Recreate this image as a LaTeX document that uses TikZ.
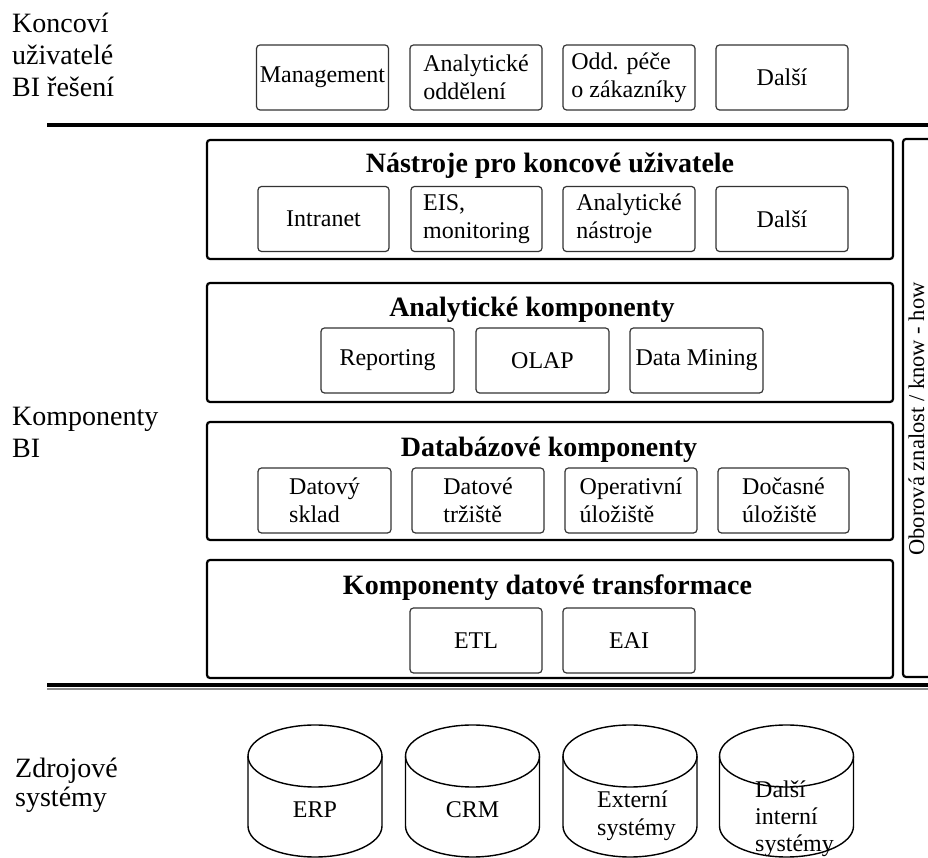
\documentclass[tikz,border=0pt]{standalone}
\usepackage{fontspec}
\setmainfont{Liberation Serif}
\begin{document}
\begin{tikzpicture}[x=1pt,y=1pt,
  section/.style={draw=black, line width=2.2pt, rounded corners=3pt, minimum width=686pt, inner sep=0pt},
  item/.style={draw=black!80, line width=1.2pt, rounded corners=3.5pt, minimum width=132pt,
    minimum height=65pt, inner sep=1pt, align=left, font=\fontsize{24}{28}\selectfont},
  heading/.style={font=\bfseries\fontsize{28}{32}\selectfont, anchor=base, inner sep=0pt},
  sidelabel/.style={font=\fontsize{28}{32}\selectfont, anchor=base west, align=left, inner sep=0pt},
  rule/.style={line width=4.7pt},
  drum/.style={draw=black, line width=1.4pt},
  drumtext/.style={font=\fontsize{24}{28}\selectfont, align=left, inner sep=0pt},
  drumpic/.pic={
    \draw[drum] (0,0) ellipse [x radius=67, y radius=31];
    \draw[drum] (-67,0) -- (-67,-70) arc[start angle=180, end angle=360, x radius=67, y radius=31] -- (67,0);
  }
]
\useasboundingbox (0,0) rectangle (928,858);

% ---- layer labels on the left (anchored at the baseline of their last line)
\node[sidelabel] (lab1) at (12,761) {Koncoví\\uživatelé\\BI řešení};
\node[sidelabel] (lab2) at (12,400) {Komponenty\\BI};
\node[sidelabel, font=\fontsize{28}{29}\selectfont] (lab3) at (15,51) {Zdrojové\\systémy};

% ---- end users
\node[item] (u1) at (322.5,780.5) {Management};
\node[item] (u2) at (476,780.5) {Analytické\\oddělení};
\node[item] (u3) at (629,780.5) {Odd. péče\\o zákazníky};
\node[item] (u4) at (782,780.5) {Další};

% ---- separators
\coordinate (r1a) at (47,733);
\coordinate (r1b) at (940,733);
\draw[rule] (r1a) -- (r1b);
\coordinate (r2a) at (47,173);
\coordinate (r2b) at (940,173);
\coordinate (r3a) at (47,169);
\coordinate (r3b) at (940,169);
\draw[rule] (r2a) -- (r2b);
\draw[black!45, line width=1.5pt] (r3a) -- (r3b);

% ---- BI component layers
\node[section, minimum height=119pt] (s1) at (550,658.5) {};
\node[section, minimum height=119pt] (s2) at (550,515.5) {};
\node[section, minimum height=118pt] (s3) at (550,377) {};
\node[section, minimum height=118pt] (s4) at (550,239) {};

% domain knowledge column
\node[draw=black, line width=2.2pt, rounded corners=3pt, minimum width=50pt, minimum height=538pt] (kh) at (928,450) {};
\node[rotate=90, anchor=base, inner sep=0pt, font=\fontsize{22.5}{27}\selectfont] (kht) at (924,439) {Oborová znalost / know - how};

% tools for end users
\node[heading] (t1) at (550,685) {Nástroje pro koncové uživatele};
\node[item, minimum width=131pt] (a1) at (323.5,639) {Intranet};
\node[item, minimum width=131pt] (a2) at (476.5,639) {EIS,\\monitoring};
\node[item] (a3) at (629,639) {Analytické\\nástroje};
\node[item] (a4) at (782,639) {Další};

% analytic components
\node[heading] (t2) at (532,541) {Analytické komponenty};
\node[item, minimum width=133pt] (b1) at (387.5,497.5) {Reporting};
\node[item, minimum width=133pt] (b2) at (542.5,497.5) {OLAP};
\node[item, minimum width=133pt] (b3) at (696.5,497.5) {Data Mining};

% database components
\node[heading] (t3) at (549,401) {Databázové komponenty};
\node[item, minimum width=133pt] (c1) at (324.5,357.5) {Datový\\sklad};
\node[item] (c2) at (478,357.5) {Datové\\tržiště};
\node[item] (c3) at (631,357.5) {Operativní\\úložiště};
\node[item, minimum width=131pt] (c4) at (783.5,357.5) {Dočasné\\úložiště};

% data transformation components
\node[heading] (t4) at (547.5,263) {Komponenty datové transformace};
\node[item] (d1) at (476,217.5) {ETL};
\node[item] (d2) at (629,217.5) {EAI};

% ---- source systems
\pic at (315,102) {drumpic};
\pic at (472.5,102) {drumpic};
\pic at (630,102) {drumpic};
\pic at (786.5,102) {drumpic};
\node[drumtext, anchor=base] (erp) at (315,40) {ERP};
\node[drumtext, anchor=base] (crm) at (472.5,40) {CRM};
\node[drumtext, anchor=base west] (ext) at (597,22) {Externí\\systémy};
\node[drumtext, anchor=base west, font=\fontsize{24}{27}\selectfont] (oth) at (755,6) {Další\\interní\\systémy};
\end{tikzpicture}
\end{document}
